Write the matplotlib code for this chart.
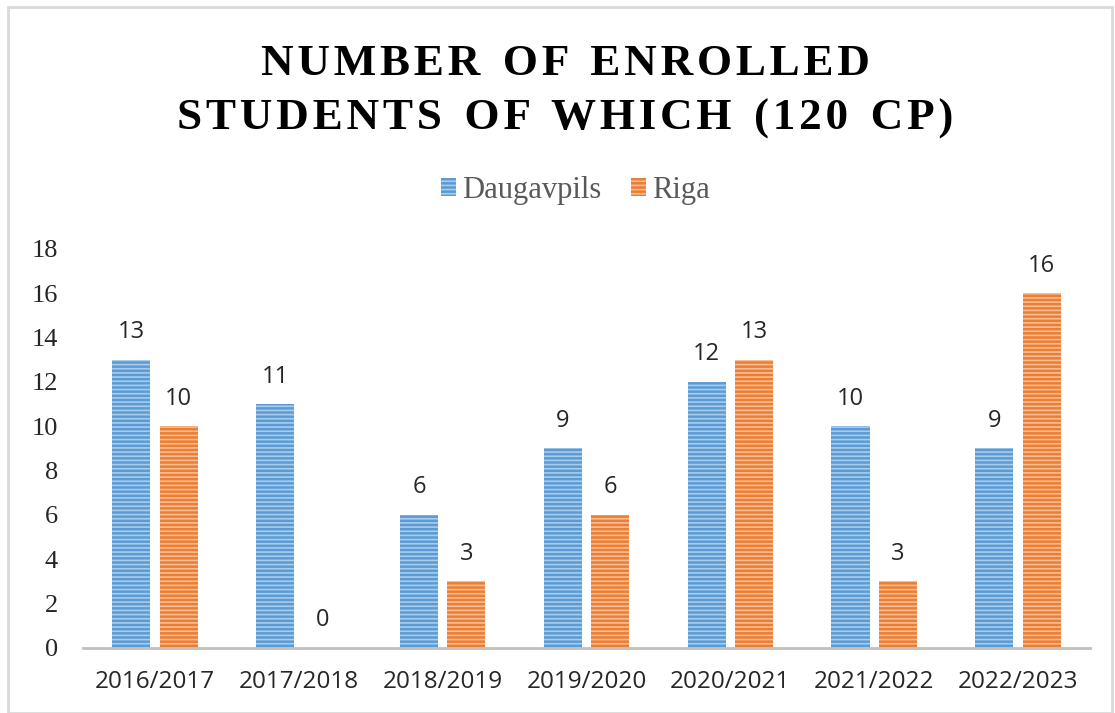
import numpy as np
import matplotlib
matplotlib.use('Agg')
import matplotlib.pyplot as plt
from matplotlib.patches import Rectangle

years = ['2016/2017', '2017/2018', '2018/2019', '2019/2020',
         '2020/2021', '2021/2022', '2022/2023']
daugavpils = [13, 11, 6, 9, 12, 10, 9]
riga = [10, 0, 3, 6, 13, 3, 16]

blue = '#5B9BD5'
orange = '#ED7D31'
plt.rcParams['hatch.linewidth'] = 1.2

fig = plt.figure(figsize=(11.15, 7.13), dpi=100)
ax = fig.add_axes([0.0744, 0.0912, 0.9032, 0.5596])

x = np.arange(len(years))
w = 0.265
off = 0.165

for vals, color, light, name, sign in [
        (daugavpils, blue, '#A9CCEB', 'Daugavpils', -1),
        (riga, orange, '#F6BE98', 'Riga', 1)]:
    ax.bar(x + sign * off, vals, w, color=color, edgecolor=light,
           hatch='----', linewidth=0, label=name)
    for xi, v in zip(x + sign * off, vals):
        ax.text(xi, v + 0.7, str(v), ha='center', va='bottom',
                fontsize=17, family='Open Sans', color='#262626')

ax.set_xlim(-0.5, len(years) - 0.5)
ax.set_ylim(0, 18)
ax.set_yticks(range(0, 19, 2))
ax.set_xticks(x)
ax.set_xticklabels(years, family='Open Sans', fontsize=17.5, color='#262626')
for lbl in ax.get_yticklabels():
    lbl.set_family('Liberation Serif')
    lbl.set_fontsize(19)
    lbl.set_color('#262626')
ax.tick_params(length=0)
ax.tick_params(axis='x', pad=16)
ax.tick_params(axis='y', pad=18)
for s in ['top', 'right', 'left']:
    ax.spines[s].set_visible(False)
ax.spines['bottom'].set_color('#BFBFBF')
ax.spines['bottom'].set_linewidth(2)

hs = '\u200a'
line1 = '  '.join(hs.join(word) for word in 'NUMBER OF ENROLLED'.split())
line2 = '  '.join(hs.join(word) for word in 'STUDENTS OF WHICH (120 CP)'.split())
fig.text(0.507, 0.91, line1, ha='center', va='center', fontsize=32.5,
         fontweight='bold', family='Liberation Serif')
fig.text(0.507, 0.834, line2, ha='center', va='center', fontsize=32.5,
         fontweight='bold', family='Liberation Serif')

leg = fig.legend(loc='center', bbox_to_anchor=(0.516, 0.733), ncol=2,
                 frameon=False, handlelength=0.5, handleheight=0.5,
                 handletextpad=0.2, columnspacing=0.95,
                 prop={'family': 'Liberation Serif', 'size': 22})
for t in leg.get_texts():
    t.set_color('#595959')

fig.patches.append(Rectangle((0.007, 0.0), 0.99, 0.99, transform=fig.transFigure,
                             fill=False, edgecolor='#D9D9D9', linewidth=2))

fig.savefig('out.png', dpi=100)
